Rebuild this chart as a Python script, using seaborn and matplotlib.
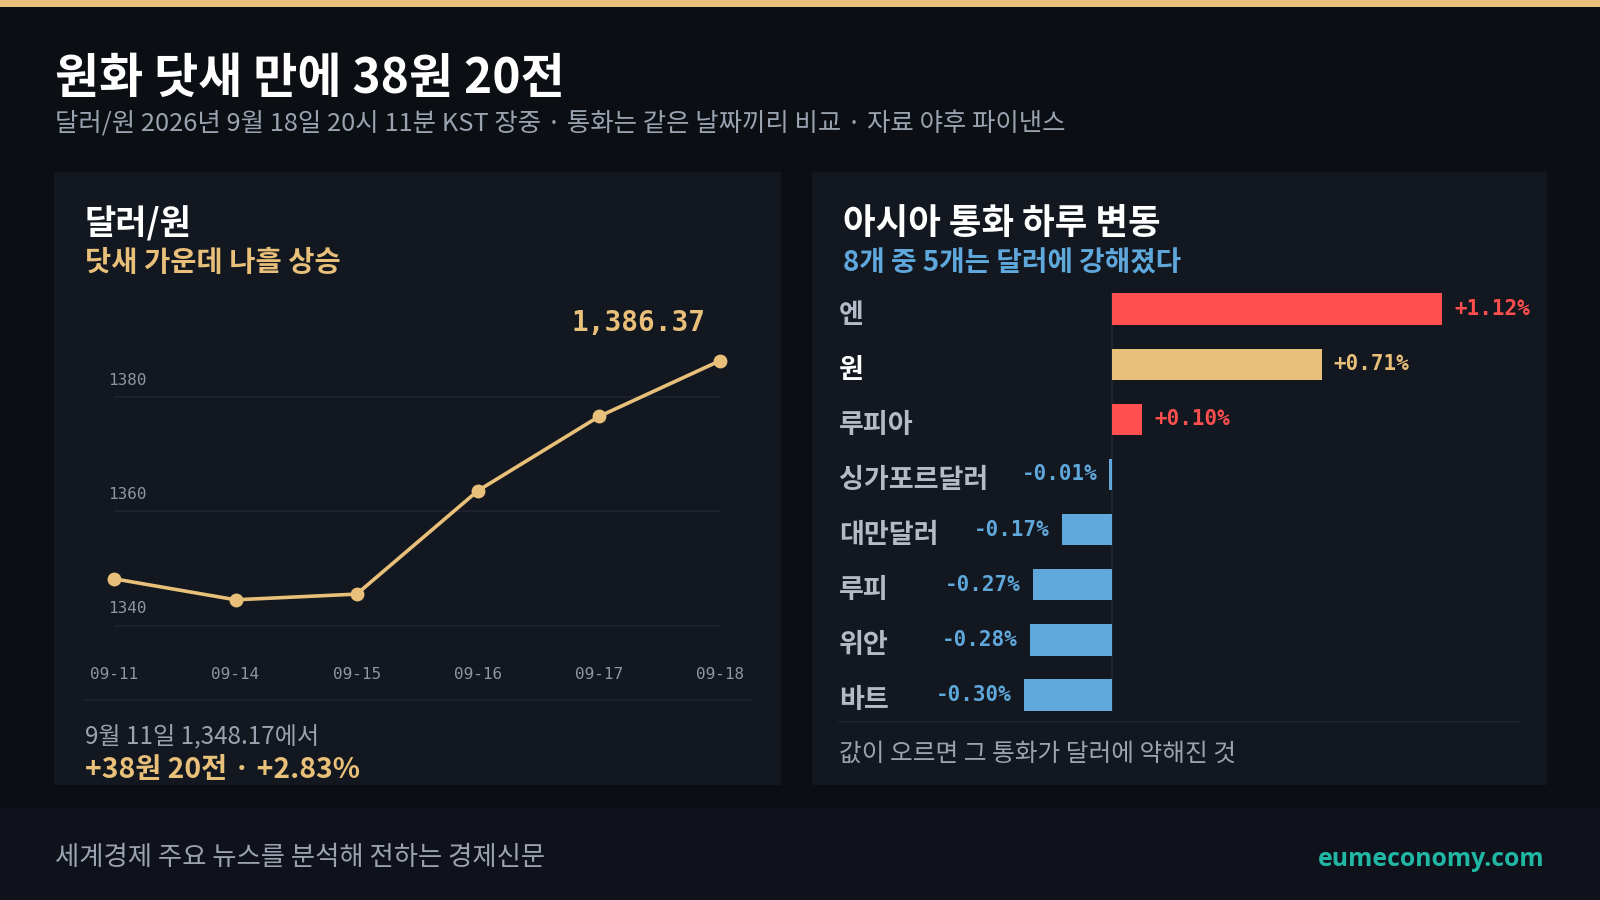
import matplotlib
matplotlib.use('Agg')
import matplotlib.pyplot as plt
import matplotlib.transforms as mtransforms
from matplotlib.patches import Rectangle
from matplotlib.lines import Line2D
import seaborn as sns
import pandas as pd

# ---------------- data ----------------
dates = ['09-11', '09-14', '09-15', '09-16', '09-17', '09-18']
usdkrw = [1348.17, 1344.5, 1345.5, 1363.6, 1376.6, 1386.37]
y_ticks = [1340, 1360, 1380]

currencies = ['엔', '원', '루피아', '싱가포르달러', '대만달러', '루피', '위안', '바트']
changes = [1.12, 0.71, 0.10, -0.01, -0.17, -0.27, -0.28, -0.30]

# ---------------- style ----------------
sns.set_theme(style='dark')
KR = ['Noto Sans CJK KR', 'DejaVu Sans']
plt.rcParams['font.family'] = KR
MONO = ['DejaVu Sans Mono']

BG = '#0b0e13'
PANEL = '#131720'
FOOT = '#0f121a'
GOLD = '#e8c07a'
RED = '#ff4f4f'
BLUE = '#5fa8dc'
GRAY = '#9aa3af'
TICK = '#8d96a3'
GRID = '#1f2430'
TEAL = '#20b8a5'

W, H = 1568.0, 882.0
def fx(px): return px / W
def fy(py): return 1 - py / H

fig = plt.figure(figsize=(16, 9), dpi=100, facecolor=BG)

# background blocks
fig.add_artist(Rectangle((0, fy(7)), 1, 7 / H, transform=fig.transFigure, color=GOLD, lw=0, zorder=0))
fig.add_artist(Rectangle((0, 0), 1, (H - 792) / H, transform=fig.transFigure, color=FOOT, lw=0, zorder=0))
fig.add_artist(Rectangle((fx(53), fy(769)), (765 - 53) / W, (769 - 169) / H, transform=fig.transFigure,
                         color=PANEL, lw=0, zorder=0))
fig.add_artist(Rectangle((fx(796), fy(769)), (1516 - 796) / W, (769 - 169) / H, transform=fig.transFigure,
                         color=PANEL, lw=0, zorder=0))

# headings
fig.text(fx(54), fy(77), '원화 닷새 만에 38원 20전', color='white', fontsize=34.5, fontweight='bold', va='center')
fig.text(fx(54), fy(122), '달러/원 2026년 9월 18일 20시 11분 KST 장중 · 통화는 같은 날짜끼리 비교 · 자료 야후 파이낸스',
         color=GRAY, fontsize=18.3, va='center')

fig.text(fx(83), fy(219), '달러/원', color='white', fontsize=24.5, fontweight='bold', va='center')
fig.text(fx(83), fy(258), '닷새 가운데 나흘 상승', color=GOLD, fontsize=20.5, fontweight='bold', va='center')
fig.text(fx(826), fy(219), '아시아 통화 하루 변동', color='white', fontsize=25.5, fontweight='bold', va='center')
fig.text(fx(826), fy(258), '8개 중 5개는 달러에 강해졌다', color=BLUE, fontsize=20, fontweight='bold', va='center')

# ---------------- line chart ----------------
ax = fig.add_axes([fx(112), fy(641), (706 - 112) / W, (641 - 338.6) / H])
ax.set_facecolor('none')
df_line = pd.DataFrame({'date': dates, 'rate': usdkrw, 'pos': range(len(dates))})
sns.lineplot(data=df_line, x='pos', y='rate', ax=ax, color=GOLD, lw=2.6, marker='o',
             markersize=10, markeredgewidth=0, clip_on=False, zorder=5)
ax.set_xlim(0, len(dates) - 1)
ax.set_ylim(1335, 1389)
for sp in ax.spines.values():
    sp.set_visible(False)
ax.set_yticks(y_ticks)
ax.set_yticklabels([])
ax.grid(axis='y', color=GRID, lw=1.2)
ax.grid(axis='x', visible=False)
ax.tick_params(axis='both', length=0)
ax.set_xticks(range(len(dates)))
ax.set_xticklabels(dates, family=MONO, fontsize=11.5, color=TICK)
ax.tick_params(axis='x', pad=9)
ax.set_xlabel('')
ax.set_ylabel('')
blend = mtransforms.blended_transform_factory(fig.transFigure, ax.transData)
for t in y_ticks:
    ax.annotate(str(t), xy=(fx(106), t), xycoords=blend, xytext=(0, 12), textcoords='offset points',
                ha='left', va='center', family=MONO, fontsize=11.5, color=TICK)
ax.annotate(f'{usdkrw[-1]:,.2f}', xy=(len(dates) - 1, usdkrw[-1]), xytext=(-11, 27),
            textcoords='offset points', ha='right', va='center', family=MONO, fontsize=20,
            fontweight='bold', color=GOLD)

fig.add_artist(Line2D([fx(83), fx(736)], [fy(686), fy(686)], transform=fig.transFigure, color=GRID, lw=1.2))
fig.text(fx(83), fy(722), '9월 11일 1,348.17에서', color=GRAY, fontsize=17.4, va='center')
fig.text(fx(83), fy(755), '+38원 20전 · +2.83%', color=GOLD, fontsize=20.4, fontweight='bold', va='center')

# ---------------- bar chart ----------------
ax2 = fig.add_axes([fx(989), fy(708), (1451 - 989) / W, (708 - 276) / H])
ax2.set_facecolor('none')
bar_colors = [RED, GOLD, RED, BLUE, BLUE, BLUE, BLUE, BLUE]
df_bar = pd.DataFrame({'currency': currencies, 'change': changes})
sns.barplot(data=df_bar, y='currency', x='change', hue='currency', palette=bar_colors,
            orient='h', legend=False, width=0.57, ax=ax2, saturation=1, zorder=3, linewidth=0)
ax2.set_xlim(-0.35, 1.25)
ax2.set_ylim(len(currencies) - 0.5, -0.5)
for sp in ax2.spines.values():
    sp.set_visible(False)
ax2.set_xticks([])
ax2.set_yticks([])
ax2.grid(False)
ax2.set_xlabel('')
ax2.set_ylabel('')
ax2.plot([0, 0], [-0.32, 7.3], color='#1e2330', lw=1.6, zorder=2)

blend2 = mtransforms.blended_transform_factory(fig.transFigure, ax2.transData)
for i, (name, v, c) in enumerate(zip(currencies, changes, bar_colors)):
    is_won = name == '원'
    ax2.text(fx(822), i + 0.1, name, transform=blend2, ha='left', va='center', fontsize=19.5,
             fontweight='bold', color='white' if is_won else '#b3bbc6')
    if v >= 0:
        ax2.annotate(f'{v:+.2f}%', xy=(v, i), xytext=(8.8, 0), textcoords='offset points', ha='left',
                     va='center', family=MONO, fontsize=15, fontweight='bold', color=c)
    else:
        ax2.annotate(f'{v:+.2f}%', xy=(v, i), xytext=(-8.8, 0), textcoords='offset points', ha='right',
                     va='center', family=MONO, fontsize=15, fontweight='bold', color=c)

fig.add_artist(Line2D([fx(822), fx(1490)], [fy(708), fy(708)], transform=fig.transFigure, color=GRID, lw=1.2))
fig.text(fx(822), fy(739), '값이 오르면 그 통화가 달러에 약해진 것', color=GRAY, fontsize=17.8, va='center')

# ---------------- footer ----------------
fig.text(fx(54), fy(840), '세계경제 주요 뉴스를 분석해 전하는 경제신문', color=GRAY, fontsize=19, va='center')
fig.text(fx(1514), fy(842), 'eumeconomy.com', color=TEAL, fontsize=17.8, fontweight='bold', va='center',
         ha='right', family=['Open Sans', 'DejaVu Sans'])

fig.savefig('out.png', dpi=100, facecolor=BG)
